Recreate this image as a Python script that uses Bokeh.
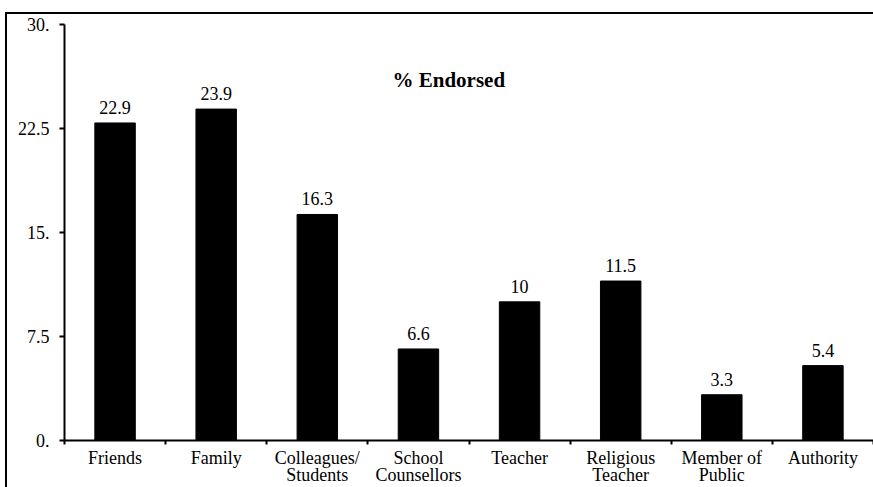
import numpy as np
from bokeh.plotting import figure
from bokeh.models import (ColumnDataSource, Range1d, FixedTicker, Label,
                          LinearAxis)
from bokeh.embed import file_html
from bokeh.resources import INLINE
from bokeh.core.properties import value

# Sources of support and the share of respondents endorsing each
categories = ["Friends", "Family", "Colleagues/\nStudents", "School\nCounsellors",
              "Teacher", "Religious\nTeacher", "Member of\nPublic", "Authority"]
endorsed = [22.9, 23.9, 16.3, 6.6, 10, 11.5, 3.3, 5.4]
value_labels = ["22.9", "23.9", "16.3", "6.6", "10", "11.5", "3.3", "5.4"]

y_ticks = [0, 7.5, 15, 22.5, 30]
y_tick_labels = ["0.", "7.5", "15.", "22.5", "30."]

SERIF = "Liberation Serif"

n = len(categories)
centers = np.arange(n) + 0.5
source = ColumnDataSource(dict(x=centers, top=endorsed, label=value_labels))

p = figure(width=873, height=487, output_backend="svg", toolbar_location=None,
           x_range=Range1d(0, n), y_range=Range1d(0, 30),
           min_border_left=64, min_border_right=0, min_border_top=24,
           min_border_bottom=46, x_axis_type=None, y_axis_type=None)
p.outline_line_color = None
p.grid.visible = False
p.background_fill_color = "white"
# transparent border so the frame line painted on the element shows through
p.border_fill_color = None
p.styles = {"background": "white", "overflow": "hidden",
            "box-shadow": "inset 5px 12px 0 0 white, inset 7px 14px 0 0 black"}

# category axis: labels under each bar, short ticks between categories
xaxis = LinearAxis(ticker=FixedTicker(ticks=list(centers),
                                      minor_ticks=list(range(n + 1))))
xaxis.major_label_overrides = {float(c): lab for c, lab in zip(centers, categories)}
xaxis.major_tick_out = 0
xaxis.major_tick_in = 0
xaxis.minor_tick_out = 4
xaxis.minor_tick_in = 0
xaxis.minor_tick_line_width = 2
xaxis.axis_line_width = 2
xaxis.major_label_standoff = 3
xaxis.major_label_text_font = SERIF
xaxis.major_label_text_font_size = "18px"
xaxis.major_label_text_color = "black"
xaxis.major_label_text_line_height = 0.85
p.add_layout(xaxis, "below")

yaxis = LinearAxis(ticker=FixedTicker(ticks=y_ticks))
yaxis.major_label_overrides = {float(t): lab for t, lab in zip(y_ticks, y_tick_labels)}
yaxis.major_tick_out = 5
yaxis.major_tick_in = 0
yaxis.major_tick_line_width = 2
yaxis.axis_line_width = 2
yaxis.minor_tick_line_color = None
yaxis.major_label_standoff = 10
yaxis.major_label_text_font = SERIF
yaxis.major_label_text_font_size = "18px"
yaxis.major_label_text_color = "black"
p.add_layout(yaxis, "left")

p.vbar(x="x", top="top", width=0.4, bottom=0, source=source,
       fill_color="black", line_color="black")

p.text(x="x", y="top", text="label", source=source, y_offset=-9,
       text_align="center", text_baseline="bottom",
       text_font=value(SERIF), text_font_size="18px", text_color="black")

p.add_layout(Label(x=3.8, y=26.0, text="% Endorsed", text_align="center",
                   text_baseline="middle", text_font=SERIF,
                   text_font_size="21px", text_font_style="bold",
                   text_color="black"))

open("out.html", "w").write(file_html(p, INLINE))
